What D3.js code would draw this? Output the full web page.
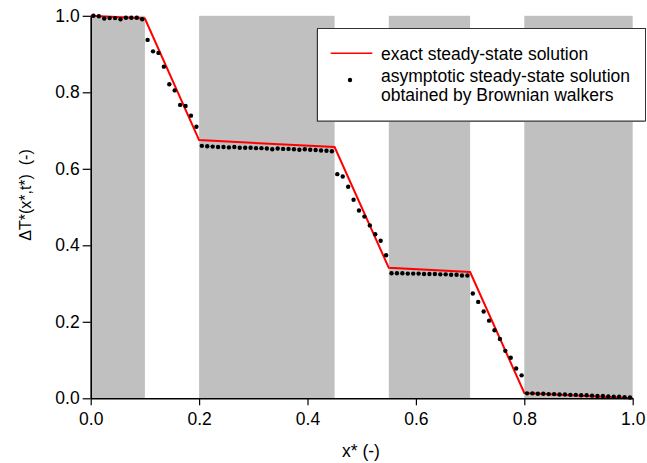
<!DOCTYPE html>
<html>
<head>
<meta charset="utf-8">
<script src="https://cdn.jsdelivr.net/npm/d3@7"></script>
<style>
html,body{margin:0;padding:0;background:#fff;}
svg{display:block;font-family:"Liberation Sans",Arial,sans-serif;}
</style>
</head>
<body>
<svg id="chart" width="647" height="463"></svg>
<script>
// Gray band intervals (x*)
const bandStart = [0.0, 0.2, 0.55, 0.8];
const bandEnd   = [0.1, 0.45, 0.7, 1.0];

// Exact steady-state solution (piecewise linear)
const exactX = [0.0, 0.1, 0.2, 0.45, 0.55, 0.7, 0.8, 1.0];
const exactY = [1.0, 0.993, 0.675, 0.657, 0.341, 0.330, 0.014, 0.0];

// Brownian walker solution
const walkX = [0.005,0.015,0.025,0.035,0.045,0.055,0.065,0.075,0.085,0.095,
               0.105,0.115,0.125,0.135,0.145,0.155,0.165,0.175,0.185,0.195,
               0.205,0.215,0.225,0.235,0.245,0.255,0.265,0.275,0.285,0.295,
               0.305,0.315,0.325,0.335,0.345,0.355,0.365,0.375,0.385,0.395,
               0.405,0.415,0.425,0.435,0.445,0.455,0.465,0.475,0.485,0.495,
               0.505,0.515,0.525,0.535,0.545,0.555,0.565,0.575,0.585,0.595,
               0.605,0.615,0.625,0.635,0.645,0.655,0.665,0.675,0.685,0.695,
               0.705,0.715,0.725,0.735,0.745,0.755,0.765,0.775,0.785,0.795,
               0.805,0.815,0.825,0.835,0.845,0.855,0.865,0.875,0.885,0.895,
               0.905,0.915,0.925,0.935,0.945,0.955,0.965,0.975,0.985,0.995];
const walkY = [1.000,0.999,0.993,0.994,0.994,0.991,0.995,0.995,0.995,0.991,
               0.937,0.907,0.903,0.867,0.821,0.805,0.767,0.764,0.739,0.710,
               0.660,0.659,0.658,0.657,0.657,0.656,0.657,0.655,0.655,0.655,
               0.654,0.654,0.653,0.651,0.653,0.652,0.652,0.651,0.650,0.651,
               0.650,0.649,0.648,0.647,0.646,0.586,0.580,0.553,0.519,0.491,
               0.475,0.452,0.429,0.412,0.374,0.327,0.327,0.327,0.326,0.326,
               0.326,0.325,0.325,0.325,0.324,0.324,0.323,0.323,0.321,0.321,
               0.274,0.252,0.227,0.203,0.178,0.155,0.124,0.106,0.078,0.060,
               0.013,0.013,0.012,0.012,0.011,0.011,0.010,0.010,0.009,0.009,
               0.008,0.008,0.007,0.006,0.006,0.005,0.004,0.004,0.003,0.002];

const xTicks = [0.0, 0.2, 0.4, 0.6, 0.8, 1.0];
const yTicks = [0.0, 0.2, 0.4, 0.6, 0.8, 1.0];

const legendLabels = ["exact steady-state solution",
                      "asymptotic steady-state solution",
                      "obtained by Brownian walkers"];

const svg = d3.select("#chart");
const mL = 90.7, mR = 632.7, mT = 15.8, mB = 398.3;
const x = d3.scaleLinear().domain([0, 1]).range([mL, mR]);
const y = d3.scaleLinear().domain([0, 1]).range([mB, mT]);

// bands
svg.append("g").selectAll("rect").data(bandStart).join("rect")
  .attr("x", (d) => x(d))
  .attr("y", y(1))
  .attr("width", (d, i) => x(bandEnd[i]) - x(d))
  .attr("height", y(0) - y(1))
  .attr("fill", "#c0c0c0");

// exact line
const line = d3.line().x((d, i) => x(exactX[i])).y((d) => y(d));
svg.append("path").datum(exactY)
  .attr("d", line)
  .attr("fill", "none")
  .attr("stroke", "#ff0000")
  .attr("stroke-width", 2);

// dots
svg.append("g").selectAll("circle").data(walkY).join("circle")
  .attr("cx", (d, i) => x(walkX[i]))
  .attr("cy", (d) => y(d))
  .attr("r", 2.2)
  .attr("fill", "#000");

// axes
const fmt = d3.format(".1f");
const xAxis = svg.append("g").attr("transform", `translate(0,${mB})`)
  .call(d3.axisBottom(x).tickValues(xTicks).tickFormat(fmt).tickSize(7).tickSizeOuter(0).tickPadding(7));
const yAxis = svg.append("g").attr("transform", `translate(${mL},0)`)
  .call(d3.axisLeft(y).tickValues(yTicks).tickFormat(fmt).tickSize(8).tickSizeOuter(0).tickPadding(3));
[xAxis, yAxis].forEach(g => {
  g.select(".domain").attr("stroke", "#000").attr("stroke-width", 1.6);
  g.selectAll(".tick line").attr("stroke", "#000").attr("stroke-width", 1.2);
  g.selectAll(".tick text").attr("fill", "#000")
    .style("font-family", '"Liberation Sans", Arial, sans-serif').style("font-size", "17.5px");
});

// axis titles
svg.append("text").attr("x", 361).attr("y", 457).attr("text-anchor", "middle")
  .style("font-size", "17.5px").text("x* (-)");
svg.append("text").attr("transform", "translate(31,195) rotate(-90)")
  .attr("text-anchor", "middle").style("font-size", "16px")
  .attr("xml:space", "preserve").text("\u0394T*(x*,t*)  (-)");

// legend
const lg = svg.append("g");
lg.append("rect").attr("x", 316.5).attr("y", 29.5).attr("width", 328).attr("height", 92.5)
  .attr("fill", "#888");
lg.append("rect").attr("x", 317.5).attr("y", 28.5).attr("width", 328).attr("height", 92.5)
  .attr("fill", "#fff").attr("stroke", "#333").attr("stroke-width", 1);
lg.append("line").attr("x1", 330.7).attr("x2", 372.3).attr("y1", 53.3).attr("y2", 53.3)
  .attr("stroke", "#ff0000").attr("stroke-width", 1.6);
lg.append("circle").attr("cx", 350).attr("cy", 80).attr("r", 2.2).attr("fill", "#000");
const ly = [59.5, 81.5, 101];
lg.selectAll("text.l").data(legendLabels).join("text").attr("class", "l")
  .attr("x", 381).attr("y", (d, i) => ly[i]).style("font-size", "17.5px").text((d) => d);
</script>
</body>
</html>
